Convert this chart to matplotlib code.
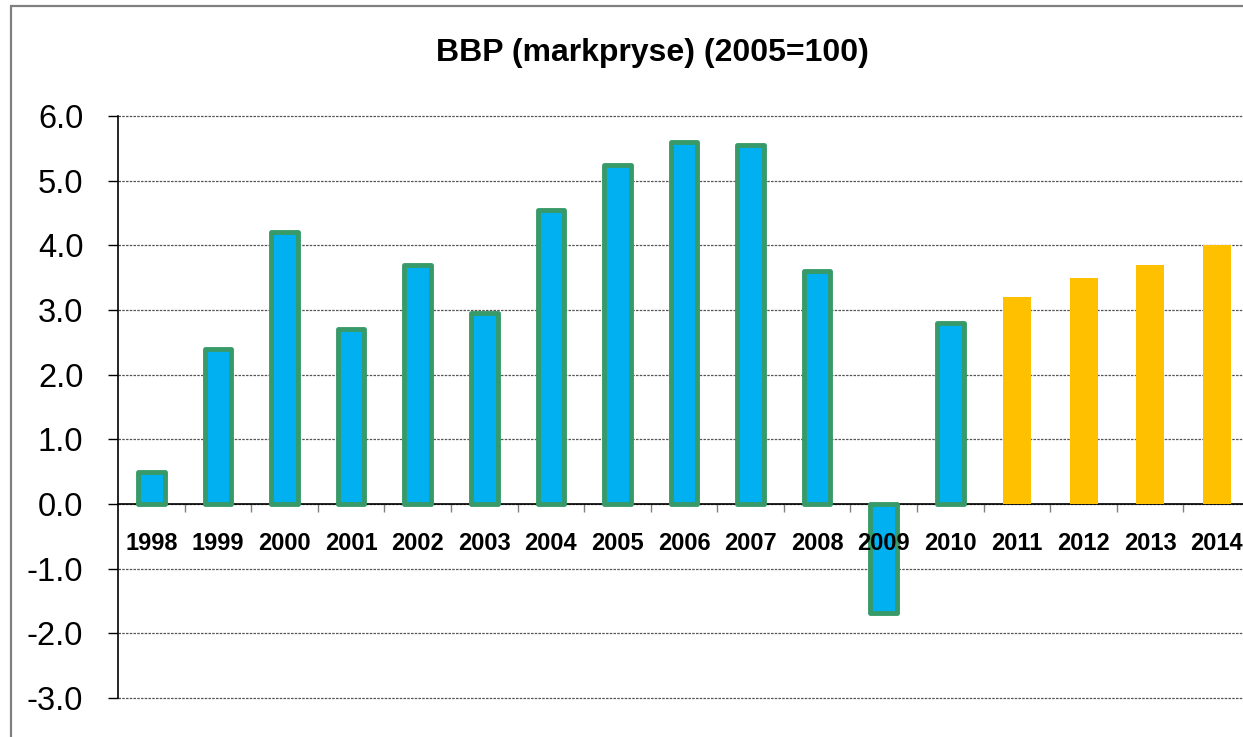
import matplotlib.pyplot as plt
from matplotlib.patches import Rectangle

plt.rcParams['font.family'] = ['Liberation Sans', 'DejaVu Sans']

# Data
years = ['1998', '1999', '2000', '2001', '2002', '2003', '2004', '2005', '2006',
         '2007', '2008', '2009', '2010', '2011', '2012', '2013', '2014']
values = [0.5, 2.4, 4.2, 2.7, 3.7, 2.95, 4.55, 5.25, 5.6,
          5.55, 3.6, -1.68, 2.8, 3.2, 3.5, 3.7, 4.0]
n_actual = 13  # 1998-2010 actual, 2011-2014 forecast
y_ticks = [-3, -2, -1, 0, 1, 2, 3, 4, 5, 6]

W, H = 1243, 737
fig = plt.figure(figsize=(W / 100, H / 100), dpi=100)

# grey border round the chart area (runs off the right/bottom edge)
fig.patches.append(Rectangle((11 / W, -0.1), 1.2, (H - 6) / H + 0.1,
                             transform=fig.transFigure, fill=False,
                             edgecolor='#808080', linewidth=1.6))

ax_left, ax_right = 118, 1250
ax_top, ax_bot = 116, 698
ax = fig.add_axes([ax_left / W, 1 - ax_bot / H,
                   (ax_right - ax_left) / W, (ax_bot - ax_top) / H])

x = list(range(len(years)))
ax.bar(x[:n_actual], values[:n_actual], width=0.4, color='#00B0F0',
       edgecolor='#379A68', linewidth=3.5, joinstyle='round', zorder=3)
ax.bar(x[n_actual:], values[n_actual:], width=0.42, color='#FFC000',
       linewidth=0, zorder=3)

ax.set_xlim(-0.5, len(years) - 0.5)
ax.set_ylim(-3, 6)
ax.set_yticks(y_ticks)
ax.set_yticklabels([f'{v:.1f}' for v in y_ticks], fontsize=23.5)
ax.tick_params(axis='y', length=7, width=1, direction='out', pad=18)

# category boundaries as ticks on the zero line, labels underneath
ax.spines['bottom'].set_position(('data', 0))
ax.set_xticks([i + 0.5 for i in x[:-1]])
ax.set_xticklabels([])
ax.tick_params(axis='x', length=6, width=1, color='#808080', direction='out')
for i, yr in zip(x, years):
    ax.text(i, -0.61, yr, ha='center', va='center', fontsize=17,
            fontweight='bold', zorder=4)

ax.yaxis.grid(True, linestyle=(0, (2, 1)), linewidth=0.9, color='#555555', zorder=0)
for gl in ax.get_ygridlines():
    gl.set_clip_on(False)
ax.set_axisbelow(True)
for s in ['top', 'right']:
    ax.spines[s].set_visible(False)
ax.spines['left'].set_linewidth(1.2)
ax.spines['bottom'].set_linewidth(1.2)

fig.text(652 / W, 1 - 53 / H, 'BBP (markpryse) (2005=100)', ha='center',
         va='center', fontsize=23, fontweight='bold')

fig.savefig('out.png', dpi=100)
